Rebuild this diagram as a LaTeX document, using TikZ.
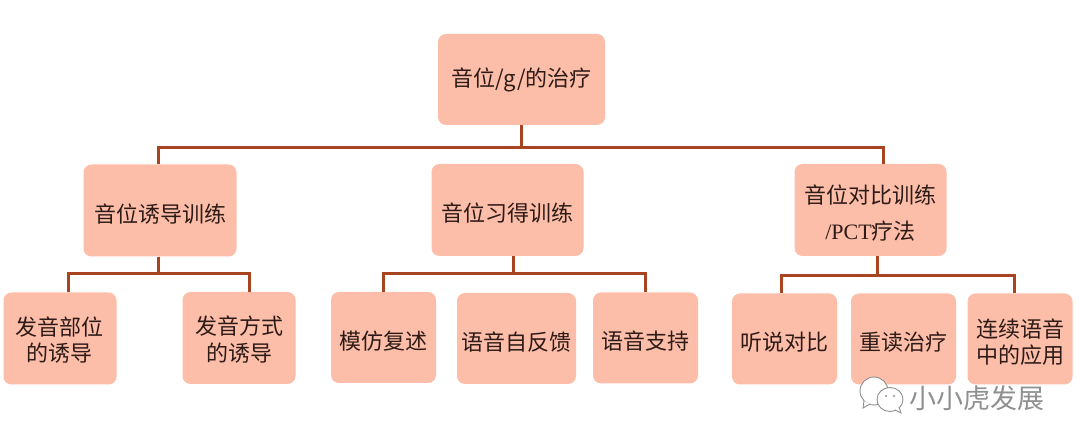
\documentclass[tikz,border=0pt]{standalone}
\usepackage{fontspec}
\setmainfont{Noto Sans CJK SC}
\newfontfamily\pctfont{Liberation Serif}
\definecolor{boxfill}{HTML}{FCBEA9}
\definecolor{linkcol}{HTML}{A8441F}
\definecolor{markcol}{HTML}{8F8F8F}
\definecolor{boxtext}{HTML}{2E1A16}
\newcommand{\lowered}[2][11.5pt]{\raisebox{-#1}[0pt][0pt]{\begin{tabular}{@{}c@{}}#2\end{tabular}}}
\tikzset{
box/.style={fill=boxfill, rounded corners=8pt, inner sep=0pt, align=center, font=\fontsize{22pt}{26.5pt}\selectfont, text=boxtext},
link/.style={draw=linkcol, line width=3pt},
bubble/.style={draw=markcol, fill=white, line width=0.9pt},
}
\begin{document}
\begin{tikzpicture}[x=1pt,y=-1pt]
\useasboundingbox (0,0) rectangle (1080,446);

% top two levels
\node [box, minimum width=167pt, minimum height=91pt] (root) at (521.5,79.5) {音位/g/的治疗};
\node [box, minimum width=153pt, minimum height=92pt] (induce) at (160,210.5) {\lowered{音位诱导训练}};
\node [box, minimum width=152pt, minimum height=92pt] (acquire) at (507.5,210) {\lowered{音位习得训练}};
\node [box, minimum width=152pt, minimum height=92pt, font=\fontsize{22pt}{36pt}\selectfont] (contrast) at (870.5,210) {\lowered[9.7pt]{音位对比训练\\{\pctfont /PCT}疗法}};

% bottom level
\node [box, minimum width=113pt, minimum height=92pt] (place) at (60,338.5) {\lowered[10pt]{发音部位\\的诱导}};
\node [box, minimum width=113pt, minimum height=92pt] (manner) at (239,338) {\lowered[10pt]{发音方式\\的诱导}};
\node [box, minimum width=105pt, minimum height=91pt] (imitate) at (383.5,337.5) {\lowered{模仿复述}};
\node [box, minimum width=119pt, minimum height=91pt] (feedback) at (516.5,338.5) {\lowered{语音自反馈}};
\node [box, minimum width=105pt, minimum height=91pt] (support) at (645.5,338) {\lowered{语音支持}};
\node [box, minimum width=105pt, minimum height=91pt] (listen) at (784.5,339) {\lowered{听说对比}};
\node [box, minimum width=105pt, minimum height=91pt] (stress) at (903.5,339) {\lowered{重读治疗}};
\node [box, minimum width=105pt, minimum height=91pt] (speech) at (1020,339) {\lowered{连续语音\\中的应用}};

\coordinate (busA) at (521.5,148);
\coordinate (busB) at (158,274);
\coordinate (busC) at (513,274);
\coordinate (busD) at (877,276);

\draw [link] (root.south) -- (busA);
\draw [link] (induce.north -| 158,0) -- (158,148) -- (883,148) -- (contrast.north -| 883,0);
\draw [link] (induce.south -| busB) -- (busB);
\draw [link] (place.north -| 68,0) -- (68,274) -- (249,274) -- (manner.north -| 249,0);
\draw [link] (acquire.south -| busC) -- (busC);
\draw [link] (imitate.north -| 383,0) -- (383,274) -- (645,274) -- (support.north -| 645,0);
\draw [link] (contrast.south -| busD) -- (busD);
\draw [link] (listen.north -| 781,0) -- (781,276) -- (1014,276) -- (speech.north -| 1014,0);

% watermark
\draw [bubble] (874,391) ellipse (14pt and 14pt);
\draw [bubble] (864,401) -- (863,408) -- (870,404);
\draw [bubble] (890,399.5) ellipse (13pt and 12pt);
\draw [bubble] (895,410) -- (901,413) -- (899,407);
\fill [markcol] (886,396) circle (1.2pt) (894,396) circle (1.2pt);
\node [inner sep=0pt, text=markcol, font=\fontsize{27pt}{27pt}\selectfont] (mark) at (977,398) {小小虎发展};
\end{tikzpicture}
\end{document}
